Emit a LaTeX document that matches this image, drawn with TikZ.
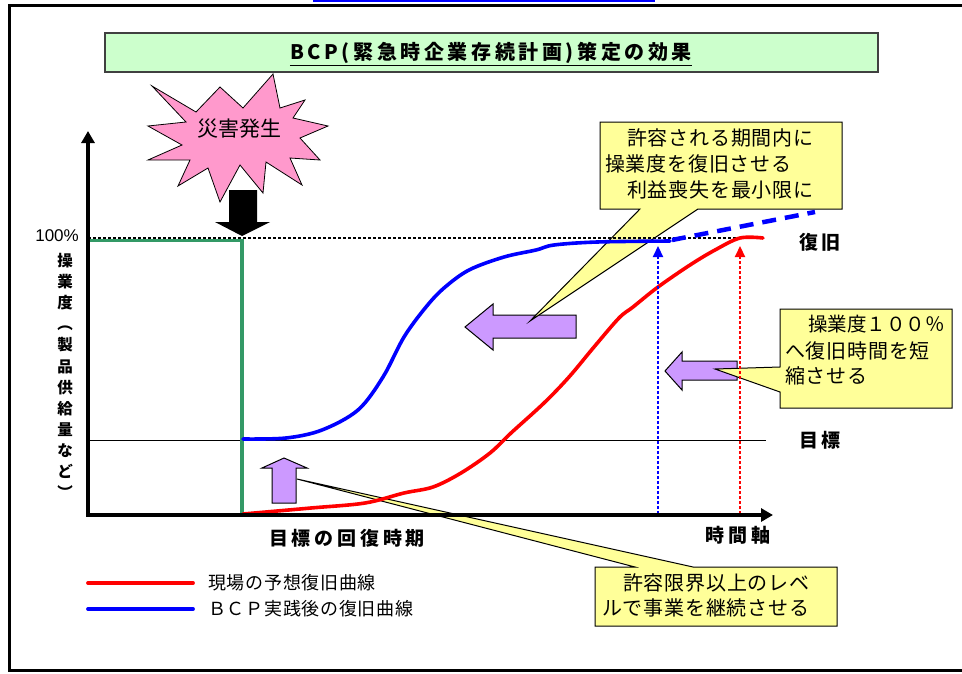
\documentclass[tikz,border=0pt]{standalone}
\usepackage{fontspec}
\setmainfont{Liberation Sans}
\newfontfamily\jp{Noto Sans CJK JP}[LetterSpace=4]
\newfontfamily\jpb{Noto Sans CJK JP}[LetterSpace=20]
\newfontfamily\jpt{Noto Sans CJK JP}[LetterSpace=18]
\newfontfamily\jpn{Noto Sans CJK JP}
\usetikzlibrary{arrows.meta}
\definecolor{ttlgreen}{RGB}{204,255,204}
\definecolor{starpink}{RGB}{255,153,204}
\definecolor{purp}{RGB}{204,153,255}
\definecolor{callyel}{RGB}{255,255,153}
\definecolor{grn}{RGB}{51,153,102}
\definecolor{linkblue}{RGB}{0,0,255}
\tikzset{
 callout/.style={fill=callyel, draw=black, line width=1pt, line join=miter},
 purparrow/.style={fill=purp, draw=black, line width=1pt},
 calltext/.style={anchor=west, inner sep=0pt, font=\jp\fontsize{20}{24}\selectfont},
 boldlab/.style={inner sep=0pt, font=\jpb\bfseries\fontsize{19}{22}\selectfont},
 legtext/.style={anchor=west, inner sep=0pt, font=\jp\fontsize{18}{22}\selectfont},
 curve/.style={line width=3.6pt, line cap=round, line join=round},
 vdash/.style={line width=2.2pt, dash pattern=on 3.5pt off 1.5pt, -{Triangle[length=11pt,width=10pt]}},
 axis/.style={line width=3.2pt},
}
\begin{document}
\begin{tikzpicture}[x=1pt,y=-1pt]
\useasboundingbox (0,0) rectangle (962,673);
\fill[white] (0,0) rectangle (962,673);
% link fragment at top
\draw[linkblue, line width=2pt] (313,1) -- (655,1);
% title
\draw[fill=ttlgreen, draw=black!75, line width=1.2pt] (105,33) rectangle (878,72);
\node[font=\jpt\bfseries\fontsize{20}{24}\selectfont, inner sep=0pt] (ttl) at (491,53) {BCP(緊急時企業存続計画)策定の効果};
\draw[line width=1.6pt] ([yshift=-1.5pt]ttl.south west) -- ([yshift=-1.5pt]ttl.south east);
% starburst
\draw[fill=starpink, draw=black, line width=0.8pt, line join=miter]
 (152,86) -- (196,112) -- (220,87) -- (243,108) -- (273,74) -- (280,108) -- (305,100) -- (293,118)
 -- (328,126) -- (300,138) -- (320,160) -- (290,158) -- (302,185) -- (266,162) -- (263,193)
 -- (240,165) -- (220,202) -- (208,168) -- (178,186) -- (190,160) -- (148,160) -- (182,145)
 -- (148,126) -- (186,122) -- cycle;
\node[inner sep=0pt, font=\jpn\fontsize{21}{24}\selectfont] (saigai) at (239,129) {災害発生};
% black down arrow
\fill[black] (229,190) -- (257,190) -- (257,222) -- (270,222) -- (242,236) -- (215,222) -- (229,222) -- cycle;
% purple block arrows
\draw[purparrow] (465,327) -- (493,304) -- (493,315) -- (576,315) -- (576,338) -- (493,338) -- (493,350) -- cycle;
\draw[purparrow] (665,371) -- (682,352) -- (682,361) -- (737,361) -- (737,380) -- (682,380) -- (682,390) -- cycle;
\draw[purparrow] (284,458) -- (307,468) -- (296,468) -- (296,503) -- (272,503) -- (272,468) -- (262,468) -- cycle;
% callouts
\draw[callout] (600,122) -- (842,122) -- (842,209) -- (698,209) -- (530,321) -- (640,209) -- (600,209) -- cycle;
\node[calltext] (c1a) at (627,138) {許容される期間内に};
\node[calltext] (c1b) at (605,164) {操業度を復旧させる};
\node[calltext] (c1c) at (627,190) {利益喪失を最小限に};
\draw[callout] (780,309) -- (952,309) -- (952,408) -- (780,408) -- (780,392) -- (715,369) -- (780,367) -- cycle;
\node[calltext, font=\jpn\fontsize{19.5}{24}\selectfont] (c2a) at (808,324) {操業度１００％};
\node[calltext] (c2b) at (785,351) {へ復旧時間を短};
\node[calltext] (c2c) at (785,376) {縮させる};
\draw[callout] (595,567) -- (635,567) -- (297,479) -- (693,567) -- (837,567) -- (837,626) -- (595,626) -- cycle;
\node[calltext] (c3a) at (623,583) {許容限界以上のレベ};
\node[calltext] (c3b) at (602,608) {ルで事業を継続させる};
% reference lines
\coordinate (O) at (88,515);
\coordinate (Ytop) at (88,131);
\coordinate (Xend) at (773,515);
\coordinate (hundL) at (88,238);
\coordinate (hundR) at (764,238);
\coordinate (tgtL) at (88,440);
\coordinate (tgtR) at (766,440);
\draw[line width=1pt] (tgtL) -- (tgtR);
\draw[line width=2.6pt, dash pattern=on 3pt off 2pt] (hundL) -- (hundR);
\draw[grn, line width=3.4pt] (88,240.5) -- (242,240.5) -- (242,515);
% curves
\draw[curve, blue] plot[smooth, tension=0.55] coordinates {(243,439) (286,438) (322,430) (358,410) (383,377) (404,337) (426,307) (444,288) (469,270) (504,257) (536,250) (554,245) (597,242) (670,241)};
\draw[blue, line width=4.5pt, dash pattern=on 14pt off 9pt] (672,240) -- (815,212);
\draw[curve, red] plot[smooth, tension=0.55] coordinates {(243,514) (311,508) (365,503) (404,493) (433,487) (461,473) (490,453) (511,433) (544,403) (569,377) (594,347) (619,318) (633,307) (658,287) (690,265) (715,250) (740,238) (763,238)};
% vertical dashed arrows
\coordinate (bv0) at (658,514);
\coordinate (bv1) at (658,246);
\coordinate (rv0) at (740,514);
\coordinate (rv1) at (740,246);
\draw[vdash, blue] (bv0) -- (bv1);
\draw[vdash, red] (rv0) -- (rv1);
% axes
\draw[axis, -{Triangle[length=12pt,width=13pt]}] ([yshift=-1.6pt]O) -- (Ytop);
\draw[axis, -{Triangle[length=12pt,width=13pt]}] ([xshift=-1.6pt]O) -- (Xend);
% labels
\node[inner sep=0pt, anchor=east, font=\fontsize{17}{20}\selectfont] (pct) at (79,236) {100\%};
\node[inner sep=0pt, align=center, font=\jpn\bfseries\fontsize{15.5}{21.1}\selectfont] (ylab) at (65,376) {操\\業\\度\\︵\\製\\品\\供\\給\\量\\な\\ど\\︶};
\node[boldlab] (fukkyu) at (820,242) {復旧};
\node[boldlab] (mokuhyo) at (820,440) {目標};
\node[boldlab] (jikan) at (738,535) {時間軸};
\node[boldlab] (kaifuku) at (347,538) {目標の回復時期};
% legend
\coordinate (lr0) at (88,583);
\coordinate (lr1) at (193,583);
\coordinate (lb0) at (88,609);
\coordinate (lb1) at (193,609);
\draw[red, line width=3.8pt, line cap=round] (lr0) -- (lr1);
\draw[blue, line width=3.8pt, line cap=round] (lb0) -- (lb1);
\node[legtext] (leg1) at (208,583) {現場の予想復旧曲線};
\node[legtext] (leg2) at (208,609) {ＢＣＰ実践後の復旧曲線};
% outer frame
\draw[line width=3pt] (970,5) -- (9,5) -- (9,670) -- (970,670);
\end{tikzpicture}
\end{document}
